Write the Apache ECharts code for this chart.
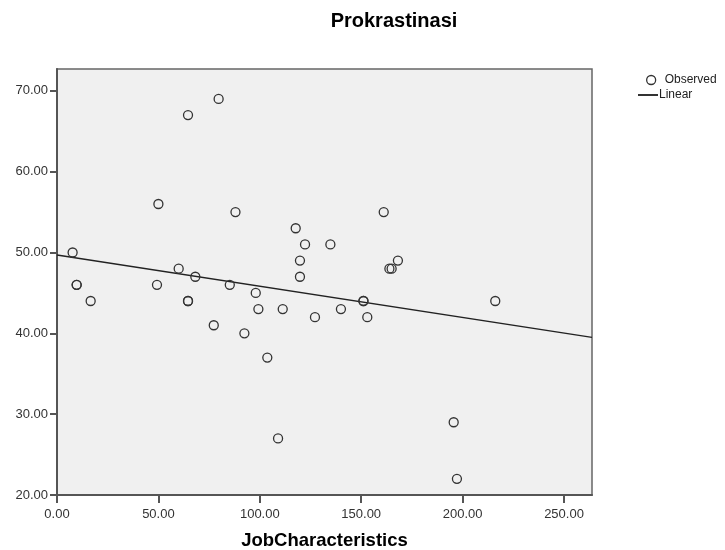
<!DOCTYPE html>
<html>
<head>
<meta charset="utf-8">
<title>Prokrastinasi</title>
<script src="https://cdn.jsdelivr.net/npm/echarts@6.0.0/dist/echarts.min.js"></script>
<style>
html, body { margin: 0; padding: 0; background: #fff; }
#main { width: 725px; height: 550px; }
</style>
</head>
<body>
<div id="main"></div>
<script>
// observed values (JobCharacteristics, Prokrastinasi)
var jobChar = [7.7, 9.7, 9.7, 16.6, 49.3, 50, 60, 64.6, 64.6, 64.6, 68.2, 79.7, 77.3, 85.2, 88, 92.4,
	98, 99.3, 103.7, 109, 111.3, 117.7, 119.8, 119.8, 122.3, 127.2, 134.8, 140, 151.1, 151.1, 153,
	161.1, 163.9, 165, 168.1, 195.6, 197.2, 216.1];
var prokras = [50, 46, 46, 44, 46, 56, 48, 67, 44, 44, 47, 69, 41, 46, 55, 40,
	45, 43, 37, 27, 43, 53, 49, 47, 51, 42, 51, 43, 44, 44, 42,
	55, 48, 48, 49, 29, 22, 44];
// linear fit (ends of the line)
var fitX = [0, 263.8];
var fitY = [49.7, 39.5];
var xTicks = [0, 50, 100, 150, 200, 250];
var yTicks = [20, 30, 40, 50, 60, 70];

var chart = echarts.init(document.getElementById('main'));

var observed = [];
for (var i = 0; i < jobChar.length; i++) {
	observed.push([jobChar[i], prokras[i]]);
}
var fitLine = [];
for (var j = 0; j < fitX.length; j++) {
	fitLine.push([fitX[j], fitY[j]]);
}

var font = 'Liberation Sans, Arial, sans-serif';

var option = {
	animation: false,
	title: {
		text: 'Prokrastinasi',
		left: 389,
		top: 6,
		textAlign: 'center',
		textStyle: { fontFamily: font, fontSize: 20, fontWeight: 'bold', color: '#000' }
	},
	legend: [{
		data: [{
			name: 'Observed',
			icon: 'circle',
			itemStyle: { color: '#fff', borderColor: '#333', borderWidth: 1.3 }
		}],
		left: 641,
		top: 69,
		itemWidth: 9,
		itemHeight: 9,
		textStyle: { fontFamily: font, fontSize: 12, color: '#222', padding: [0, 0, 0, 4] }
	}, {
		data: [{
			name: 'Linear',
			icon: 'rect',
			itemStyle: { color: '#333' }
		}],
		left: 633,
		top: 84,
		itemWidth: 20,
		itemHeight: 2,
		textStyle: { fontFamily: font, fontSize: 12, color: '#222', padding: [0, 0, 0, -4] }
	}],
	grid: {
		show: true,
		left: 57,
		right: 133,
		top: 69,
		bottom: 55,
		outerBoundsMode: 'none',
		containLabel: false,
		backgroundColor: '#f0f0f0',
		borderColor: '#666',
		borderWidth: 1.5
	},
	xAxis: {
		type: 'value',
		min: 0,
		max: 263.8,
		interval: 50,
		name: 'JobCharacteristics',
		nameLocation: 'middle',
		nameGap: 36,
		nameTextStyle: { fontFamily: font, fontSize: 18.5, fontWeight: 'bold', color: '#000' },
		axisLine: { show: true, lineStyle: { color: '#555', width: 2 } },
		axisTick: { show: true, length: 8, lineStyle: { color: '#555', width: 2 }, customValues: xTicks },
		axisLabel: {
			fontFamily: font, fontSize: 13, color: '#333', margin: 13,
			customValues: xTicks,
			formatter: function (v) { return v.toFixed(2); }
		},
		splitLine: { show: false }
	},
	yAxis: {
		type: 'value',
		min: 20,
		max: 72.7,
		interval: 10,
		axisLine: { show: true, lineStyle: { color: '#555', width: 2 } },
		axisTick: { show: true, length: 7, lineStyle: { color: '#555', width: 2 }, customValues: yTicks },
		axisLabel: {
			fontFamily: font, fontSize: 13, color: '#333', margin: 9,
			customValues: yTicks,
			formatter: function (v) { return v.toFixed(2); }
		},
		splitLine: { show: false }
	},
	series: [{
		name: 'Observed',
		type: 'scatter',
		data: observed,
		symbol: 'circle',
		symbolSize: 9,
		itemStyle: { color: 'rgba(0,0,0,0)', borderColor: '#333', borderWidth: 1.3, opacity: 1 }
	}, {
		name: 'Linear',
		type: 'line',
		data: fitLine,
		symbol: 'none',
		itemStyle: { color: '#222' },
		lineStyle: { color: '#222', width: 1.5 },
		z: 1
	}]
};

chart.setOption(option);
window.addEventListener('resize', function () {
	chart.resize();
});
</script>
</body>
</html>
